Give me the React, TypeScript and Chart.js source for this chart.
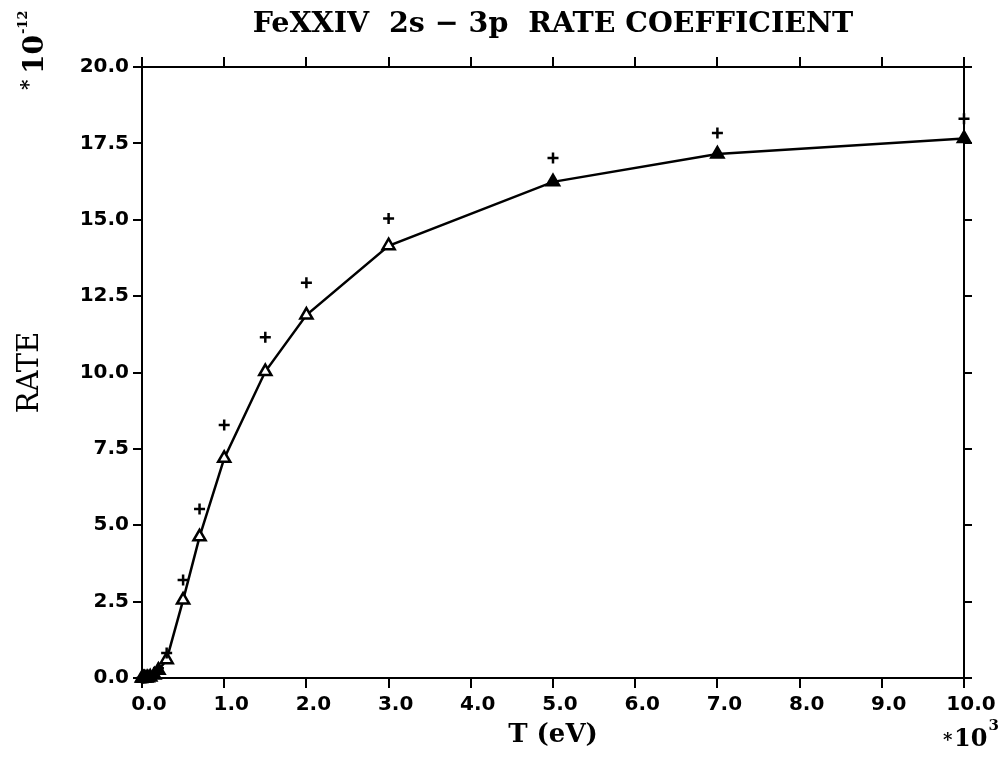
import React, { useEffect, useRef } from "react";
import { Chart, registerables } from "chart.js";

Chart.register(...registerables);

// Temperature in units of 10^3 eV
const temperatures = [0.0, 0.01, 0.02, 0.03, 0.05, 0.07, 0.1, 0.15, 0.2, 0.3, 0.5, 0.7, 1.0, 1.5, 2.0, 3.0, 5.0, 7.0, 10.0];
// Rate coefficient (units of 10^-12), triangles joined by the line
const rateTriangles = [0.0, 0.0, 0.0, 0.0, 0.0, 0.01, 0.03, 0.1, 0.25, 0.6, 2.55, 4.62, 7.19, 10.03, 11.88, 14.15, 16.24, 17.15, 17.66];
// Rate coefficient (units of 10^-12), crosses
const rateCrosses = [0.0, 0.0, 0.0, 0.0, 0.0, 0.01, 0.04, 0.13, 0.32, 0.82, 3.21, 5.53, 8.28, 11.15, 12.94, 15.04, 17.02, 17.84, 18.31];

const titleText = "FeXXIV  2s \u2212 3p  RATE COEFFICIENT";
const xTitle = "T (eV)";
const yTitle = "RATE";
const xMin = 0, xMax = 10, xStep = 1;
const yMin = 0, yMax = 20, yStep = 2.5;

const SERIF = "'DejaVu Serif', 'Liberation Serif', serif";
const TICKFONT = "'DejaVu Sans', sans-serif";

const exponentPlugin = {
  id: "exponents",
  afterDraw(chart: any) {
    const ctx = chart.ctx as CanvasRenderingContext2D;
    ctx.save();
    ctx.fillStyle = "#000";
    ctx.textBaseline = "alphabetic";
    ctx.textAlign = "left";
    // rotated *10^-12 at top-left
    ctx.save();
    ctx.translate(43, 90);
    ctx.rotate(-Math.PI / 2);
    ctx.font = `bold 20px ${SERIF}`;
    ctx.fillText("*", 0, -8);
    ctx.font = `bold 28px ${SERIF}`;
    ctx.fillText("10", 16, 0);
    const w10 = ctx.measureText("10").width;
    ctx.font = `bold 13px ${SERIF}`;
    ctx.fillText("-12", 16 + w10 + 1, -16);
    ctx.restore();
    // *10^3 at bottom-right
    ctx.font = `bold 18px ${SERIF}`;
    ctx.fillText("*", 943, 746);
    ctx.font = `bold 24px ${SERIF}`;
    ctx.fillText("10", 954, 746);
    const w2 = ctx.measureText("10").width;
    ctx.font = `bold 15px ${SERIF}`;
    ctx.fillText("3", 954 + w2 + 1, 730);
    ctx.restore();
  },
};

export default function App() {
  const ref = useRef<HTMLCanvasElement | null>(null);
  useEffect(() => {
    if (!ref.current) return;
    const triPts = temperatures.map((t, i) => ({ x: t, y: rateTriangles[i] }));
    const crossPts = temperatures.map((t, i) => ({ x: t, y: rateCrosses[i] }));
    const tickFmt = (v: any) => Number(v).toFixed(1);
    const chart = new Chart(ref.current, {
      type: "scatter",
      data: {
        datasets: [
          {
            label: "crosses",
            data: crossPts,
            showLine: false,
            pointStyle: "cross",
            pointRadius: 5.5,
            pointBorderWidth: 2.5,
            borderColor: "#000",
            backgroundColor: "#000",
            clip: false,
          },
          {
            label: "triangles",
            data: triPts,
            showLine: true,
            borderColor: "#000",
            borderWidth: 2.5,
            tension: 0,
            pointStyle: "triangle",
            pointRadius: 7,
            pointBorderWidth: 2.5,
            pointBorderColor: "#000",
            pointBackgroundColor: triPts.map((p) => (p.x >= 5 || p.x < 0.25 ? "#000" : "#fff")),
            clip: false,
          },
        ],
      },
      options: {
        responsive: false,
        animation: false,
        layout: { padding: 0 },
        plugins: {
          legend: { display: false },
          tooltip: { enabled: false },
          title: {
            display: true,
            text: titleText,
            fullSize: false,
            color: "#000",
            font: { family: SERIF, size: 28.5, weight: "bold", lineHeight: 1.2 },
            padding: { top: 7, bottom: 6 },
          },
        },
        scales: {
          x: {
            type: "linear",
            position: "bottom",
            min: xMin,
            max: xMax,
            ticks: {
              stepSize: xStep,
              callback: tickFmt,
              color: "#000",
              font: { family: TICKFONT, size: 20, weight: "bold" },
              padding: 5,
              labelOffset: 7,
              maxRotation: 0,
            },
            grid: { drawOnChartArea: false, tickLength: 10, color: "#000", lineWidth: 2 },
            border: { color: "#000", width: 2 },
            title: {
              display: true,
              text: xTitle,
              color: "#000",
              font: { family: SERIF, size: 26, weight: "bold" },
              padding: { top: 0, bottom: 9 },
            },
            afterFit: (s: any) => { s.height = 82; },
          },
          x2: {
            type: "linear",
            axis: "x",
            position: "top",
            min: xMin,
            max: xMax,
            ticks: { stepSize: xStep, display: false },
            grid: { drawOnChartArea: false, tickLength: 10, color: "#000", lineWidth: 2 },
            border: { color: "#000", width: 2 },
            afterFit: (s: any) => { s.height = 19.8; },
          },
          y: {
            type: "linear",
            position: "left",
            min: yMin,
            max: yMax,
            ticks: {
              stepSize: yStep,
              callback: tickFmt,
              color: "#000",
              font: { family: TICKFONT, size: 20, weight: "bold" },
              padding: 4,
            },
            grid: { drawOnChartArea: false, tickLength: 9, color: "#000", lineWidth: 2 },
            border: { color: "#000", width: 2 },
            title: {
              display: true,
              text: yTitle,
              color: "#000",
              font: { family: SERIF, size: 29, weight: "normal" },
              padding: { top: 13, bottom: 0 },
            },
            afterFit: (s: any) => { s.width = 142; },
          },
          y2: {
            type: "linear",
            axis: "y",
            position: "right",
            min: yMin,
            max: yMax,
            ticks: { stepSize: yStep, display: false },
            grid: { drawOnChartArea: false, tickLength: 8, color: "#000", lineWidth: 2 },
            border: { color: "#000", width: 2 },
            afterFit: (s: any) => { s.width = 42; },
          },
        },
      } as any,
      plugins: [exponentPlugin],
    });
    return () => chart.destroy();
  }, []);
  return (
    <div style={{ position: "absolute", left: 0, top: 0, width: 1006, height: 760, background: "#fff" }}>
      <canvas ref={ref} width={1006} height={760} style={{ display: "block" }} />
    </div>
  );
}
